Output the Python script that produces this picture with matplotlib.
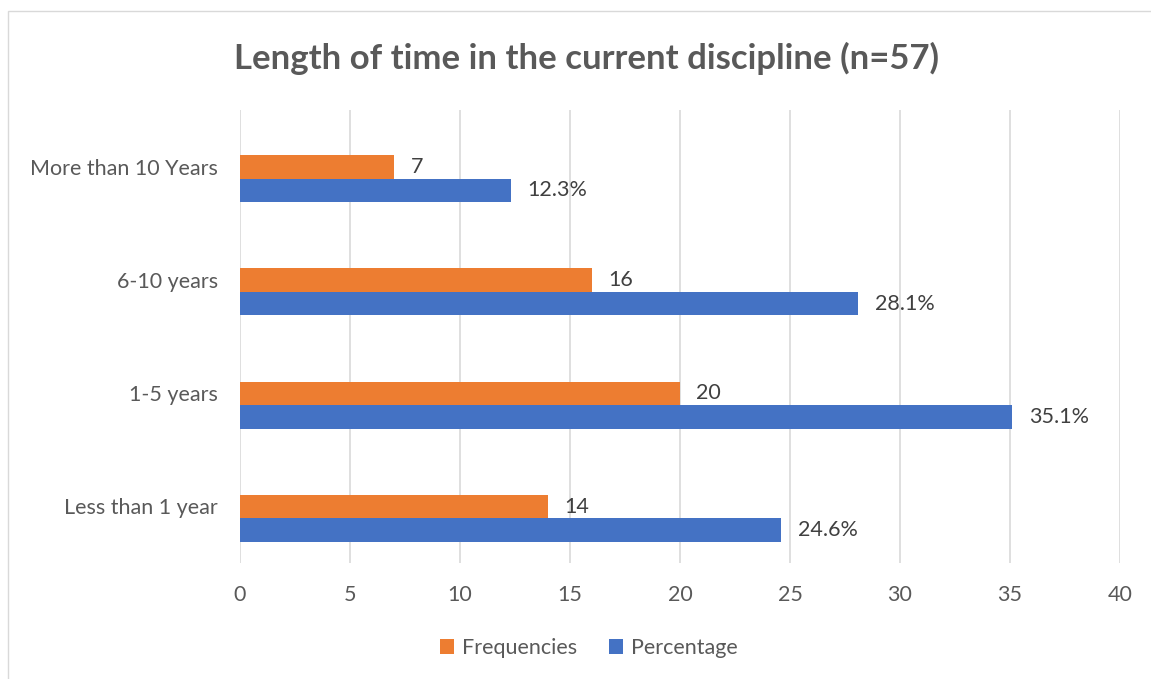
import matplotlib.pyplot as plt
import numpy as np
from matplotlib.patches import Rectangle

categories = ["Less than 1 year", "1-5 years", "6-10 years", "More than 10 Years"]
frequencies = [14, 20, 16, 7]
percentages = [24.6, 35.1, 28.1, 12.3]
xticks = [0, 5, 10, 15, 20, 25, 30, 35, 40]

plt.rcParams["font.family"] = ["Lato", "DejaVu Sans"]
text_col = "#595959"

W, H = 1151, 679
fig = plt.figure(figsize=(W / 100, H / 100), dpi=100)
ax = fig.add_axes([240 / W, 1 - 563 / H, (1120 - 240) / W, (563 - 110) / H])

y = np.arange(len(categories))
h = 0.2075
shift = -0.107  # excel draws bar groups a bit below the category centre
b1 = ax.barh(y + shift + h / 2, frequencies, height=h, color="#ED7D31", label="Frequencies")
b2 = ax.barh(y + shift - h / 2, percentages, height=h, color="#4472C4", label="Percentage")

for bar, v in zip(b1, frequencies):
    ax.text(bar.get_width() + 0.75, bar.get_y() + bar.get_height() / 2, f"{v}",
            va="center", ha="left", fontsize=15.5, color="#404040")
for bar, v in zip(b2, percentages):
    ax.text(bar.get_width() + 0.75, bar.get_y() + bar.get_height() / 2, f"{v}%",
            va="center", ha="left", fontsize=15.5, color="#404040")

ax.set_xlim(0, 40)
ax.set_ylim(-0.5, 3.5)
ax.set_xticks(xticks)
ax.set_yticks(y)
ax.set_yticklabels(categories)
ax.tick_params(axis="both", length=0, labelsize=15.5, labelcolor=text_col)
ax.tick_params(axis="x", pad=16)
ax.tick_params(axis="y", pad=16)
ax.grid(axis="x", color="#D9D9D9", linewidth=1.2)
ax.set_axisbelow(True)
for s in ax.spines.values():
    s.set_visible(False)

fig.text(586 / W, 1 - 58 / H, "Length of time in the current discipline (n=57)",
         ha="center", va="center", fontsize=25, fontweight="bold", color=text_col)

fig.legend(handles=[b1, b2], loc="center", bbox_to_anchor=(589 / W, 1 - 648 / H),
           ncol=2, frameon=False, fontsize=15.5, labelcolor=text_col,
           handlelength=0.65, handleheight=0.65, handletextpad=0.35, columnspacing=1.5)

fig.patches.append(Rectangle((8 / W, -0.1), 1.2, 1 - 11 / H + 0.1, transform=fig.transFigure,
                             fill=False, edgecolor="#D9D9D9", linewidth=1))

fig.savefig("out.png", dpi=100)
